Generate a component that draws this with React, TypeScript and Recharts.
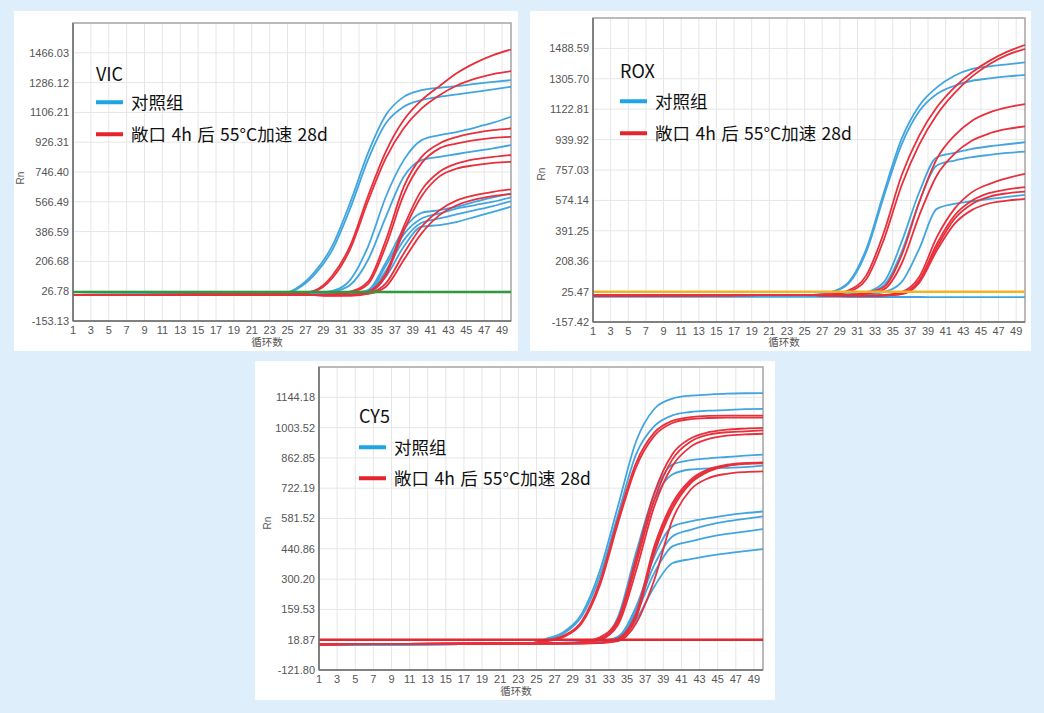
import { LineChart, Line, XAxis, YAxis, CartesianGrid, ReferenceLine, ReferenceArea } from 'recharts';

// shared cycle grid (x values) and the odd-cycle tick labels
const CYCLES = [1, 24, 26, 28, 30, 32, 34, 36, 38, 40, 42, 44, 46, 48, 50];
const X_TICKS = [1, 3, 5, 7, 9, 11, 13, 15, 17, 19, 21, 23, 25, 27, 29, 31, 33, 35, 37, 39, 41, 43, 45, 47, 49];

const BLUE = '#42a5e0';
const RED = '#e8303c';

// ---- VIC ----
const VIC_TICKS = [-153.13, 26.78, 206.68, 386.59, 566.49, 746.4, 926.31, 1106.21, 1286.12, 1466.03];
const VIC_DOMAIN = [-153.13, 1645.94];
const VIC_THRESHOLD = 22;
const VIC_BLUE = [
  [5, 8, 44, 140, 300, 560, 860, 1090, 1200, 1240, 1255, 1265, 1278, 1290, 1301],
  [5, 8, 38, 125, 275, 525, 820, 1040, 1140, 1180, 1200, 1215, 1230, 1245, 1261],
  [5, 8, 10, 15, 28, 94, 295, 597, 818, 939, 969, 989, 1015, 1044, 1080],
  [5, 8, 9, 12, 22, 64, 215, 476, 718, 818, 838, 855, 873, 889, 909],
  [5, 8, 8, 8, 10, 15, 34, 200, 400, 500, 516, 537, 567, 593, 617],
  [5, 8, 8, 8, 9, 12, 24, 180, 370, 466, 496, 527, 547, 567, 593],
  [5, 8, 8, 8, 9, 11, 20, 150, 335, 440, 466, 492, 516, 541, 571],
  [5, 8, 8, 8, 8, 10, 16, 114, 295, 416, 426, 446, 476, 506, 537],
];
const VIC_RED = [
  [3, 6, 10, 30, 120, 300, 600, 870, 1060, 1180, 1265, 1345, 1405, 1452, 1486],
  [3, 6, 9, 25, 105, 280, 570, 830, 1010, 1130, 1210, 1270, 1310, 1338, 1355],
  [3, 6, 6, 5, 8, 24, 84, 335, 657, 838, 919, 959, 983, 999, 1009],
  [3, 6, 6, 4, 6, 18, 70, 300, 610, 800, 889, 919, 939, 953, 959],
  [3, 6, 6, 3, 2, 5, 24, 134, 416, 637, 748, 798, 824, 838, 849],
  [3, 6, 6, 3, 2, 4, 20, 120, 390, 600, 720, 768, 788, 802, 808],
  [3, 6, 6, 3, 0, 0, 13, 74, 255, 416, 516, 577, 607, 627, 642],
  [3, 6, 6, 3, 0, 0, 10, 54, 215, 376, 486, 547, 581, 601, 613],
];

// ---- ROX ----
const ROX_TICKS = [-157.42, 25.47, 208.36, 391.25, 574.14, 757.03, 939.92, 1122.81, 1305.7, 1488.59];
const ROX_DOMAIN = [-157.42, 1671.48];
const ROX_THRESHOLD = 25;
const ROX_BLUE = [
  [0, 3, 5, 23, 83, 283, 623, 944, 1144, 1254, 1324, 1365, 1381, 1393, 1405],
  [0, 3, 5, 20, 75, 265, 600, 910, 1110, 1214, 1264, 1294, 1308, 1320, 1329],
  [0, 3, 4, 5, 10, 23, 83, 323, 623, 834, 860, 884, 900, 912, 924],
  [0, 3, 4, 5, 8, 18, 63, 263, 563, 784, 814, 834, 848, 860, 868],
  [0, 3, 3, 4, 5, 8, 23, 83, 283, 523, 553, 569, 583, 595, 607],
  [-6, -6, -6, -6, -7, -7, -7, -7, -7, -8, -8, -8, -8, -8, -8],
];
const ROX_RED = [
  [2, 4, 5, 10, 33, 123, 383, 724, 964, 1134, 1254, 1345, 1415, 1469, 1509],
  [2, 4, 5, 8, 25, 100, 340, 664, 910, 1090, 1220, 1320, 1395, 1450, 1485],
  [2, 4, 4, 3, 5, 19, 53, 243, 563, 824, 964, 1054, 1104, 1134, 1154],
  [2, 4, 4, 3, 3, 12, 39, 193, 483, 724, 854, 934, 978, 1004, 1020],
  [2, 4, 4, 2, 0, 0, 5, 23, 113, 353, 523, 624, 674, 708, 734],
  [2, 4, 4, 2, 0, 0, 3, 15, 93, 313, 483, 573, 619, 640, 654],
  [2, 4, 4, 2, 0, 0, 3, 12, 87, 293, 463, 553, 597, 617, 627],
  [2, 4, 4, 2, 0, 0, 2, 10, 78, 273, 433, 517, 557, 573, 583],
];

// ---- CY5 ----
const CY5_TICKS = [-121.8, 18.87, 159.53, 300.2, 440.86, 581.52, 722.19, 862.85, 1003.52, 1144.18];
const CY5_DOMAIN = [-121.8, 1284.84];
const CY5_THRESHOLD = 18.87;
const CY5_BLUE = [
  [-5, 0, 22, 55, 140, 340, 640, 940, 1090, 1138, 1152, 1157, 1161, 1163, 1164],
  [-5, 0, 18, 48, 128, 315, 600, 880, 1010, 1060, 1076, 1082, 1085, 1089, 1090],
  [-5, 0, 2, 5, 10, 22, 125, 425, 695, 832, 852, 861, 867, 873, 878],
  [-5, 0, 2, 4, 8, 18, 105, 395, 665, 786, 809, 814, 817, 820, 827],
  [-5, 0, 1, 2, 4, 10, 33, 172, 405, 544, 568, 583, 596, 606, 614],
  [-5, 0, 1, 2, 3, 8, 25, 157, 366, 498, 529, 552, 568, 580, 591],
  [-5, 0, 1, 2, 3, 6, 20, 141, 328, 452, 475, 495, 510, 521, 532],
  [-5, 0, 1, 2, 3, 5, 15, 110, 265, 374, 393, 408, 420, 430, 439],
];
const CY5_RED = [
  [-3, 2, 14, 38, 105, 290, 580, 840, 980, 1035, 1052, 1058, 1059, 1059, 1059],
  [-3, 2, 11, 32, 95, 272, 560, 820, 965, 1025, 1043, 1048, 1050, 1050, 1050],
  [-3, 2, 2, 2, 8, 30, 115, 400, 700, 880, 953, 982, 994, 999, 1002],
  [-3, 2, 2, 2, 6, 23, 100, 372, 668, 856, 938, 971, 982, 986, 991],
  [-3, 2, 2, 2, 5, 18, 88, 340, 638, 825, 914, 951, 966, 972, 975],
  [-3, 2, 2, 2, 2, 5, 25, 141, 452, 653, 761, 811, 831, 839, 842],
  [-3, 2, 2, 2, 2, 5, 22, 130, 435, 640, 752, 805, 828, 837, 840],
  [-3, 2, 2, 2, 2, 4, 20, 120, 420, 625, 745, 800, 825, 835, 838],
  [-3, 2, 2, 2, 2, 3, 12, 95, 296, 575, 715, 769, 789, 797, 800],
];

const LEGEND_BLUE = '对照组';
const LEGEND_RED = '敞口 4h 后 55°C加速 28d';

const CJK = '"Noto Sans CJK SC", "Noto Sans", sans-serif';
const TICK_FONT = '"Liberation Sans", Arial, sans-serif';

function buildRows(blue: number[][], red: number[][]) {
  return CYCLES.map((c, i) => {
    const row: Record<string, number> = { cycle: c };
    blue.forEach((s, k) => (row[`b${k}`] = s[i]));
    red.forEach((s, k) => (row[`r${k}`] = s[i]));
    return row;
  });
}

interface PanelProps {
  left: number;
  top: number;
  width: number;
  height: number;
  margin: { top: number; right: number; left: number; bottom: number };
  yWidth: number;
  domain: number[];
  ticks: number[];
  blue: number[][];
  red: number[][];
  threshold: number;
  thresholdColor: string;
  title: string;
  legend: { x: number; titleY: number; row1: number; row2: number };
  rn: { x: number; y: number };
  xl: { x: number; y: number };
}

function Panel(p: PanelProps) {
  const rows = buildRows(p.blue, p.red);
  const tick = { fontSize: 11, fill: '#555', fontFamily: TICK_FONT };
  return (
    <div style={{ position: 'absolute', left: p.left, top: p.top, width: p.width, height: p.height, background: '#fff' }}>
      <LineChart width={p.width} height={p.height} data={rows} margin={p.margin}>
        <CartesianGrid stroke="#e6e6e6" strokeWidth={1} />
        <XAxis
          dataKey="cycle"
          type="number"
          domain={[1, 50]}
          ticks={X_TICKS}
          interval={0}
          height={20}
          tick={tick}
          tickSize={3}
          tickMargin={2}
          tickLine={false}
          axisLine={{ stroke: '#6e6e6e', strokeWidth: 1.5 }}
        />
        <YAxis
          type="number"
          domain={p.domain}
          ticks={p.ticks}
          interval={0}
          allowDataOverflow
          width={p.yWidth}
          tick={tick}
          tickSize={2}
          tickMargin={2}
          tickLine={false}
          tickFormatter={(v: number) => v.toFixed(2)}
          axisLine={{ stroke: '#6e6e6e', strokeWidth: 1.5 }}
        />
        <ReferenceArea x1={1} x2={50} y1={p.domain[0]} y2={p.domain[1]} fill="none" stroke="#a8a8a8" strokeWidth={1.5} />
        {p.blue.map((_, k) => (
          <Line key={`b${k}`} dataKey={`b${k}`} type="monotone" stroke={BLUE} strokeWidth={1.8} dot={false} isAnimationActive={false} />
        ))}
        {p.red.map((_, k) => (
          <Line key={`r${k}`} dataKey={`r${k}`} type="monotone" stroke={RED} strokeWidth={1.8} dot={false} isAnimationActive={false} />
        ))}
        <ReferenceLine y={p.threshold} stroke={p.thresholdColor} strokeWidth={2.5} />
      </LineChart>
      <div style={{ position: 'absolute', left: p.legend.x, top: p.legend.titleY, transform: 'translateY(-50%)', fontFamily: CJK, fontSize: 18, color: '#111', lineHeight: 1 }}>
        {p.title}
      </div>
      {[
        { y: p.legend.row1, color: '#1fa5e3', text: LEGEND_BLUE },
        { y: p.legend.row2, color: '#e5252c', text: LEGEND_RED },
      ].map((r) => (
        <div key={r.text} style={{ position: 'absolute', left: p.legend.x, top: r.y, transform: 'translateY(-50%)', display: 'flex', alignItems: 'center', fontFamily: CJK, fontSize: 17.5, color: '#111', lineHeight: 1, whiteSpace: 'nowrap', wordSpacing: 1.5 }}>
          <span style={{ display: 'inline-block', width: 27, height: 3.5, background: r.color, marginRight: 8 }} />
          {r.text}
        </div>
      ))}
      <div style={{ position: 'absolute', left: p.rn.x, top: p.rn.y, transform: 'translate(-50%, -50%) rotate(-90deg)', fontFamily: TICK_FONT, fontSize: 10, color: '#555' }}>
        Rn
      </div>
      <div style={{ position: 'absolute', left: p.xl.x, top: p.xl.y, transform: 'translate(-50%, -50%)', fontFamily: CJK, fontSize: 10.5, color: '#555' }}>
        循环数
      </div>
    </div>
  );
}

export default function App() {
  return (
    <div style={{ position: 'absolute', left: 0, top: 0, width: 1044, height: 713, background: '#dfeefb', overflow: 'hidden' }}>
      <Panel
        left={14} top={11} width={504} height={340}
        margin={{ top: 12, right: 7, left: 0, bottom: 10 }}
        yWidth={59}
        domain={VIC_DOMAIN} ticks={VIC_TICKS}
        blue={VIC_BLUE} red={VIC_RED}
        threshold={VIC_THRESHOLD} thresholdColor="#2f9a3c"
        title="VIC"
        legend={{ x: 82, titleY: 62, row1: 91, row2: 123 }}
        rn={{ x: 6, y: 167 }}
        xl={{ x: 253, y: 330 }}
      />
      <Panel
        left={530} top={11} width={501} height={340}
        margin={{ top: 7, right: 6, left: 0, bottom: 9 }}
        yWidth={63}
        domain={ROX_DOMAIN} ticks={ROX_TICKS}
        blue={ROX_BLUE} red={ROX_RED}
        threshold={ROX_THRESHOLD} thresholdColor="#f2b327"
        title="ROX"
        legend={{ x: 90, titleY: 59, row1: 90, row2: 122 }}
        rn={{ x: 11, y: 163 }}
        xl={{ x: 254, y: 330 }}
      />
      <Panel
        left={255} top={361} width={520} height={339}
        margin={{ top: 6, right: 12, left: 0, bottom: 10 }}
        yWidth={64}
        domain={CY5_DOMAIN} ticks={CY5_TICKS}
        blue={CY5_BLUE} red={CY5_RED}
        threshold={CY5_THRESHOLD} thresholdColor="#e5262e"
        title="CY5"
        legend={{ x: 104, titleY: 54, row1: 86, row2: 117 }}
        rn={{ x: 12, y: 162 }}
        xl={{ x: 261, y: 329 }}
      />
    </div>
  );
}
